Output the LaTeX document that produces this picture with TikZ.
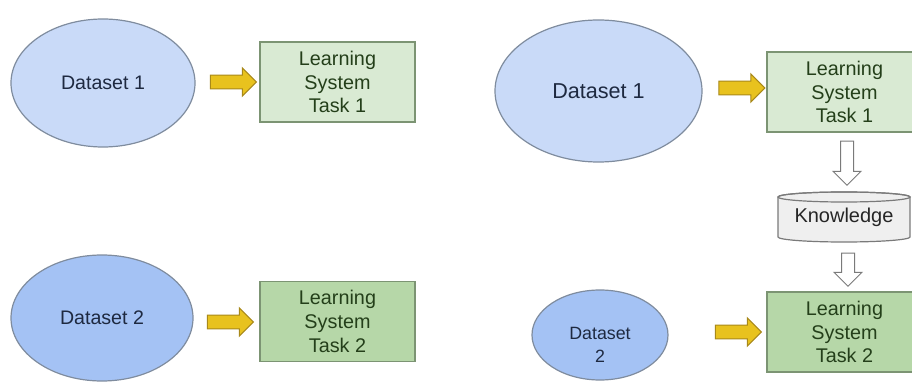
\documentclass[tikz,border=0pt]{standalone}
\usepackage{fontspec}
\setmainfont{Liberation Sans}
\usetikzlibrary{shapes.geometric,shapes.arrows}
\definecolor{ellA}{HTML}{C9DAF8}
\definecolor{ellB}{HTML}{A4C2F4}
\definecolor{ellEdge}{HTML}{7F8C9E}
\definecolor{boxA}{HTML}{D9EAD3}
\definecolor{boxB}{HTML}{B6D7A8}
\definecolor{boxEdge}{HTML}{7C9473}
\definecolor{boxText}{HTML}{243F1A}
\definecolor{ellText}{HTML}{1E2940}
\definecolor{yel}{HTML}{E8C21E}
\definecolor{yelEdge}{HTML}{A8891A}
\definecolor{knFill}{HTML}{EFEFEF}
\definecolor{knEdge}{HTML}{7A7A7A}
\tikzset{
  dset/.style={ellipse, draw=ellEdge, line width=0.6pt, inner sep=0pt, text=ellText, font=\fontsize{9.8}{11.5}\selectfont, align=center},
  lsys/.style={rectangle, draw=boxEdge, line width=0.6pt, inner sep=0pt, minimum width=77.5pt, minimum height=40pt, text=boxText, font=\fontsize{9.9}{11.8}\selectfont, align=center},
  yarrow/.style={single arrow, draw=yelEdge, fill=yel, line width=0.5pt, inner xsep=0pt, inner ysep=3.2pt, single arrow head extend=3.6pt, minimum height=23pt},
  darrow/.style={single arrow, draw=knEdge, fill=white, line width=0.5pt, inner xsep=0pt, inner ysep=3pt, single arrow head extend=3.7pt, rotate=270}
}
\begin{document}
\begin{tikzpicture}[x=0.5pt,y=0.5pt]
\useasboundingbox (0,0) rectangle (912,381);
% left pair
\node[dset, fill=ellA, minimum width=92pt, minimum height=64pt] (d1) at (103,298) {Dataset 1};
\node[lsys, fill=boxA] (b1) at (337.5,299) {Learning\\System\\Task 1};
\node[yarrow] (a1) at (230,299) {};
\node[dset, fill=ellB, minimum width=91pt, minimum height=63pt] (d2) at (102,63) {Dataset 2};
\node[lsys, fill=boxB] (b2) at (337.5,59.5) {Learning\\System\\Task 2};
\node[yarrow] (a2) at (227,59) {};
% right side
\node[dset, fill=ellA, minimum width=103.5pt, minimum height=71pt, font=\fontsize{10.8}{12}\selectfont] (d3) at (598.5,290) {Dataset 1};
\node[lsys, fill=boxA] (b3) at (844.5,289) {Learning\\System\\Task 1};
\node[yarrow] (a3) at (738.5,293) {};
\node[darrow, minimum height=22pt] (v1) at (847,221) {};
% knowledge cylinder
\node[inner sep=0pt, minimum width=66pt, minimum height=25pt] (kn) at (844,164) {};
\fill[knFill, draw=knEdge, line width=0.6pt] (778,184) -- (778,144) arc (180:360:66 and 5) -- (910,184) arc (0:180:66 and 5) -- cycle;
\draw[knEdge, line width=0.6pt] (844,184) ellipse (66 and 5);
\node[font=\fontsize{10}{12}\selectfont, text=black!85, inner sep=0pt] (kt) at (kn.center) {Knowledge};
\node[darrow, minimum height=16.5pt] (v2) at (848,114.5) {};
\node[lsys, fill=boxB] (b4) at (844.5,49) {Learning\\System\\Task 2};
\node[dset, fill=ellB, minimum width=68pt, minimum height=45pt, font=\fontsize{8.9}{11.5}\selectfont] (d4) at (600,46) {};
\node[font=\fontsize{8.9}{11.5}\selectfont, text=ellText, align=center, inner sep=0pt] (d4t) at ([yshift=-5]d4.center) {Dataset\\2};
\node[yarrow] (a4) at (735,49) {};
\end{tikzpicture}
\end{document}
